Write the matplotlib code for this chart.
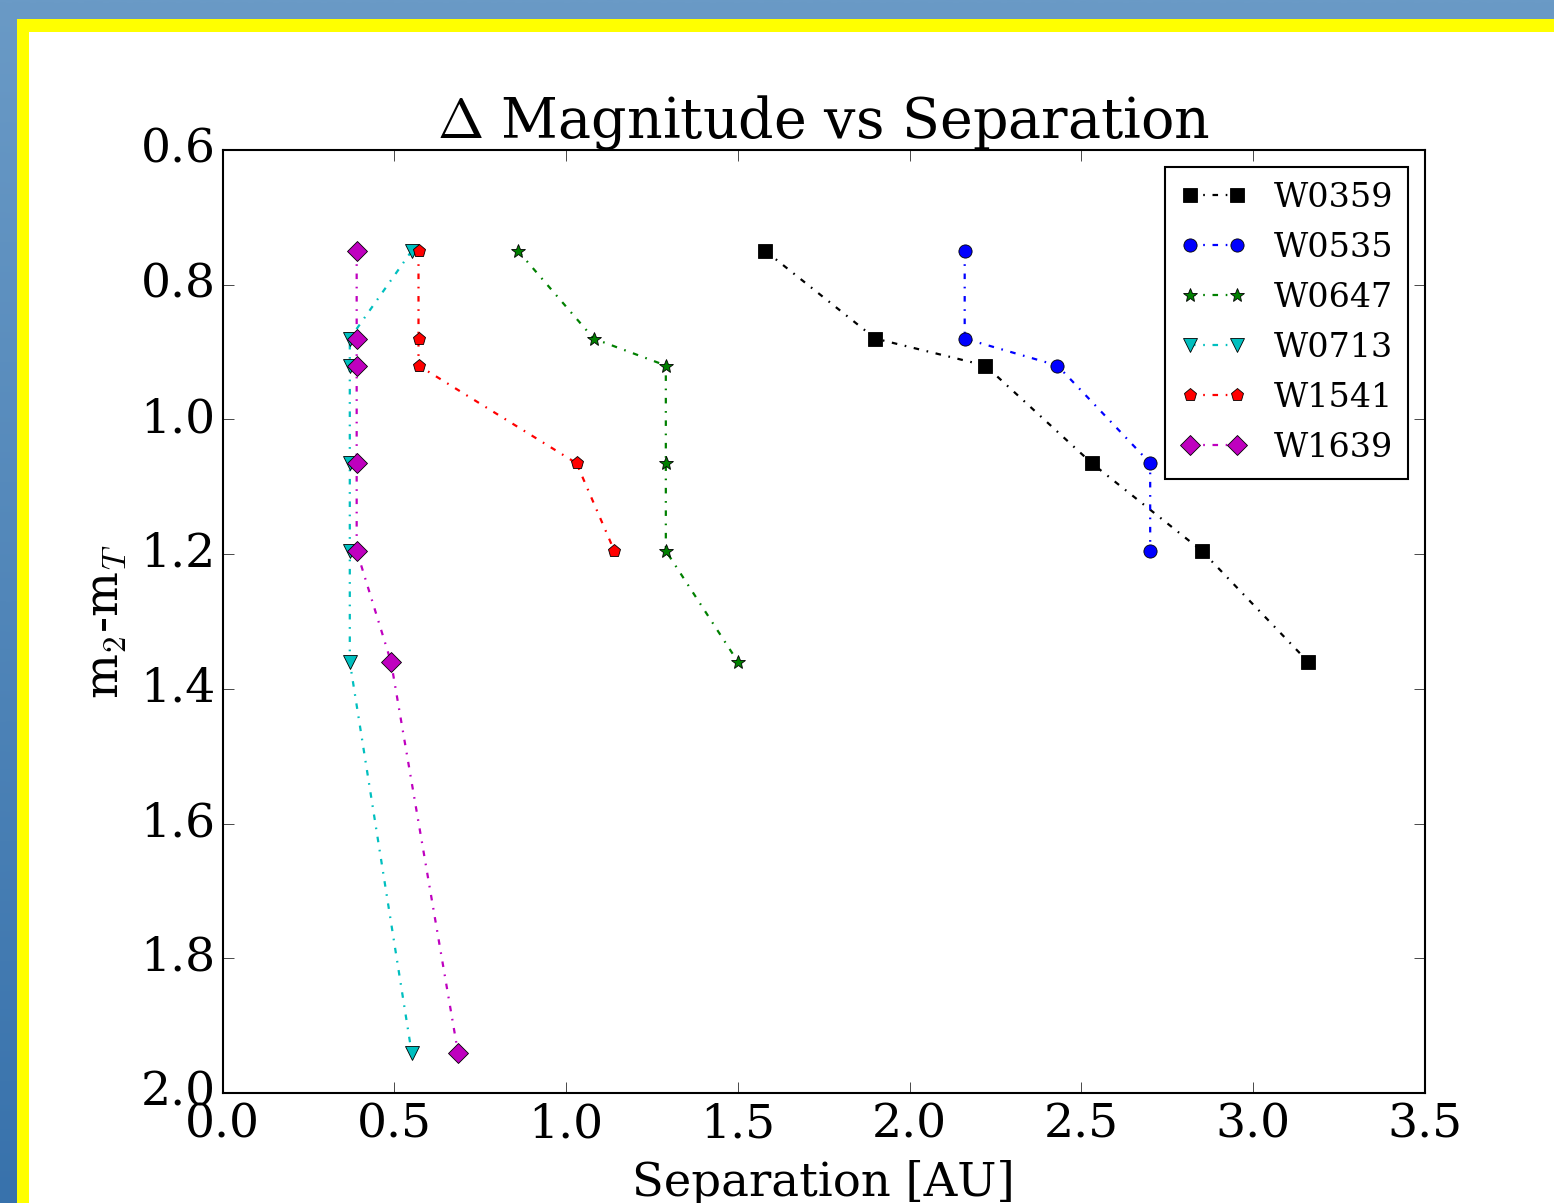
import matplotlib
matplotlib.use('Agg')
import matplotlib.pyplot as plt
import numpy as np
from matplotlib.patches import Rectangle

# data (separation [AU] vs m2 - mT)
dm_levels = [0.75, 0.88, 0.92, 1.065, 1.195, 1.36, 1.94]

names = ['W0359', 'W0535', 'W0647', 'W0713', 'W1541', 'W1639']
sep_W0359 = [1.58, 1.90, 2.22, 2.53, 2.85, 3.16]
sep_W0535 = [2.16, 2.16, 2.43, 2.70, 2.70]
sep_W0647 = [0.86, 1.08, 1.29, 1.29, 1.29, 1.50]
sep_W0713 = [0.55, 0.37, 0.37, 0.37, 0.37, 0.37, 0.55]
sep_W1541 = [0.57, 0.57, 0.57, 1.03, 1.14]
sep_W1639 = [0.39, 0.39, 0.39, 0.39, 0.39, 0.49, 0.685]
seps = [sep_W0359, sep_W0535, sep_W0647, sep_W0713, sep_W1541, sep_W1639]

colors = ['k', 'b', 'g', 'c', 'r', 'm']
markers = ['s', 'o', '*', 'v', 'p', 'D']
msizes = [9.5, 9.5, 10, 10, 9.5, 10.5]

plt.style.use('classic')
plt.rcParams['font.family'] = 'serif'
plt.rcParams['font.serif'] = ['DejaVu Serif']
plt.rcParams['mathtext.fontset'] = 'cm'

W, H = 1554, 1203
fig = plt.figure(figsize=(W / 100, H / 100), dpi=100)

# slide background: blue gradient, yellow frame, white panel
bg = fig.add_axes([0, 0, 1, 1], zorder=-10)
top = np.array([106, 154, 198]) / 255
bot = np.array([56, 114, 172]) / 255
t = np.linspace(0, 1, 256)[:, None]
grad = top[None, :] * (1 - t) + bot[None, :] * t
bg.imshow(grad[:, None, :], aspect='auto', extent=[0, 1, 0, 1])
bg.add_patch(Rectangle((17 / W, 0), 1, 1 - 19 / H, color='#ffff00', lw=0))
bg.add_patch(Rectangle((29 / W, 0), 1, 1 - 32 / H, color='white', lw=0))
bg.set_xlim(0, 1)
bg.set_ylim(0, 1)
bg.axis('off')

ax = fig.add_axes([222.7 / W, 1 - 1093 / H, (1425 - 222.7) / W, (1093 - 150) / H])
ax.set_facecolor('white')

for name, x, c, m, ms in zip(names, seps, colors, markers, msizes):
    ax.plot(x, dm_levels[:len(x)], color=c, marker=m, markersize=ms,
            markerfacecolor=c, markeredgecolor='k', markeredgewidth=0.6,
            linestyle='-.', linewidth=1.6, dashes=(4, 5.5, 1.2, 5.5), label=name)

ax.set_xlim(0, 3.5)
ax.set_ylim(2.0, 0.6)
ax.set_xticks(np.arange(0, 3.51, 0.5))
ax.set_yticks(np.arange(0.6, 2.01, 0.2))
ax.tick_params(labelsize=34, direction='in', top=True, right=True, length=8)
ax.tick_params(axis='x', pad=7)
ax.tick_params(axis='y', pad=5)

ax.set_title(r'$\Delta$ Magnitude vs Separation', fontsize=40, pad=9)
ax.set_xlabel('Separation [AU]', fontsize=33.5, labelpad=9)
ax.set_ylabel(r'm$_2$-m$_T$', fontsize=34, labelpad=9)

leg = ax.legend(loc='upper right', numpoints=2, fontsize=24, handlelength=2.0,
                handletextpad=0.8, labelspacing=0.54, borderpad=0.45, borderaxespad=0.5)
leg.get_frame().set_linewidth(1.5)

for sp in ax.spines.values():
    sp.set_linewidth(1.5)

fig.savefig('out.png', dpi=100)
